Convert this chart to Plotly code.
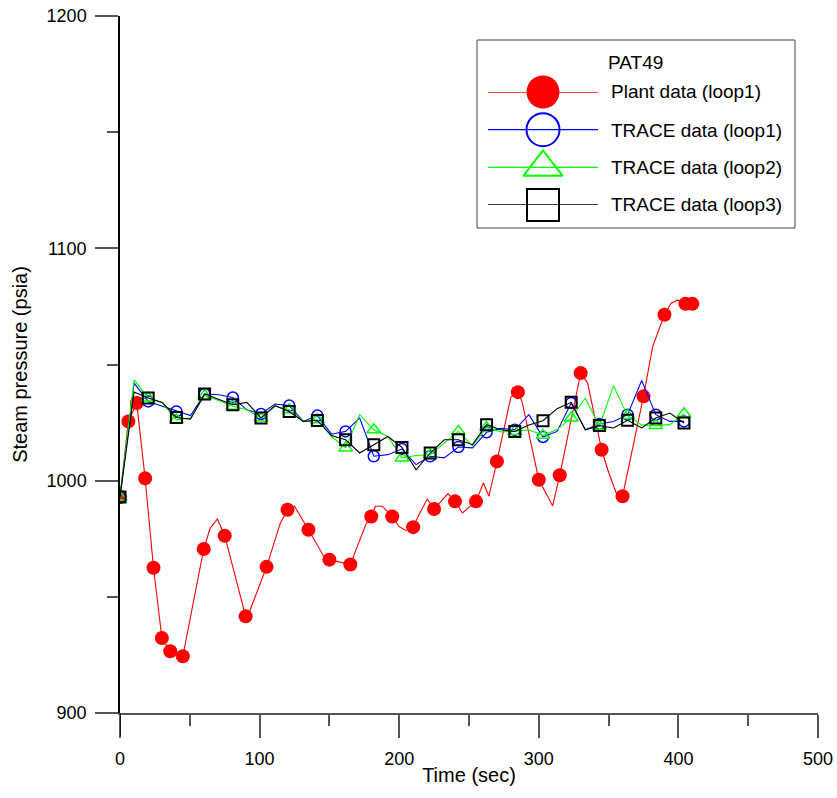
import plotly.graph_objects as go

# ---- Plant data (loop 1): measured trace and sampled points ----
plant_line_t = [0, 6, 12, 18, 24, 30, 36, 45, 60, 64.6, 69.8, 75, 90, 93, 105, 114.9, 120,
                125, 135, 146, 150, 155.5, 165, 170, 176, 180, 183, 187.9, 195, 199.8, 204.6,
                210, 214.2, 220.1, 225, 234.9, 240, 245.3, 255, 260.3, 264.3, 270, 280, 285,
                288, 300, 309.9, 315, 330, 335, 345, 349.4, 355.4, 360, 375, 381.6, 390,
                394.8, 399.6, 405, 410]
plant_line_p = [993, 1025.5, 1033.4, 1001, 962.5, 932.3, 926.6, 924.4, 970.6, 979.6, 983.5,
                976.3, 941.6, 944, 962.9, 981.8, 987.5, 989, 978.9, 967.4, 966, 965.3, 963.9,
                971.7, 981, 984.6, 989, 989, 984.6, 980.3, 978.6, 980, 985.4, 992.1, 987.8,
                994.4, 991.1, 986.1, 991.1, 999, 993.3, 1008.3, 1036, 1038.1, 1034, 1000.4,
                989.2, 1002.3, 1046.3, 1042, 1013.3, 1004.7, 994.7, 993.3, 1036.3, 1057.8,
                1071.4, 1076.4, 1077.8, 1076.1, 1076.1]

plant_t = [0, 6, 12, 18, 24, 30, 36, 45, 60, 75, 90, 105, 120, 135, 150, 165, 180, 195, 210,
           225, 240, 255, 270, 285, 300, 315, 330, 345, 360, 375, 390, 405, 410]
plant_p = [993, 1025.5, 1033.4, 1001, 962.5, 932.3, 926.6, 924.4, 970.6, 976.3, 941.6, 962.9,
           987.5, 978.9, 966, 963.9, 984.6, 984.6, 980, 987.8, 991.1, 991.1, 1008.3, 1038.1,
           1000.4, 1002.3, 1046.3, 1013.3, 993.3, 1036.3, 1071.4, 1076.1, 1076.1]

# ---- TRACE results: output every 10.1 s, symbols on every other sample ----
trace_t = [0, 10.1, 20.2, 30.3, 40.4, 50.5, 60.6, 70.7, 80.8, 90.9, 101, 111.1, 121.2, 131.3,
           141.4, 151.5, 161.6, 171.7, 181.8, 191.9, 202, 212.1, 222.2, 232.3, 242.4, 252.5,
           262.6, 272.7, 282.8, 292.9, 303, 313.1, 323.2, 333.3, 343.4, 353.5, 363.6, 373.7,
           383.8, 393.9, 404]
loop1_p = [993, 1042, 1034.1, 1032, 1029.8, 1028, 1037.3, 1037, 1035.8, 1030.5, 1028.7, 1033,
           1032.3, 1025.5, 1028, 1020, 1021.2, 1027, 1010.5, 1011.2, 1013.6, 1006.9, 1010.5,
           1009.8, 1014.5, 1014.1, 1020.8, 1022.5, 1021.9, 1028.4, 1018.8, 1021.2, 1033.4,
           1021.9, 1024.4, 1025.5, 1028.4, 1043.1, 1028.4, 1025.5, 1025.5]
loop2_p = [993, 1043.4, 1035.6, 1033.5, 1026.2, 1027, 1036.6, 1034.5, 1032, 1030.5, 1027, 1032,
           1030.5, 1025.5, 1026.2, 1019, 1014.1, 1028.4, 1021.9, 1019, 1009.8, 1010.8, 1011.2,
           1016, 1021.2, 1015, 1022.9, 1021, 1021.2, 1021.9, 1019.5, 1022, 1027, 1035.6,
           1023.4, 1040.9, 1028, 1024, 1023.7, 1024.1, 1028.8]
loop3_p = [993, 1038.2, 1035.6, 1033.7, 1027.2, 1026.5, 1037.3, 1035.1, 1032.7, 1033.7, 1027,
           1032.3, 1029.8, 1025.5, 1025.9, 1019.4, 1017.6, 1011.9, 1015.5, 1019, 1014.3, 1004.7,
           1011.9, 1017.6, 1017.6, 1015.5, 1024.1, 1021.9, 1021.2, 1024, 1025.8, 1031, 1033.7,
           1021.9, 1023.7, 1022.7, 1026, 1022.7, 1027, 1029.1, 1024.8]

legend_title = "PAT49"
series_names = ["Plant data (loop1)", "TRACE data (loop1)", "TRACE data (loop2)",
                "TRACE data (loop3)"]

x_ticks = [0, 100, 200, 300, 400, 500]
y_ticks = [900, 1000, 1100, 1200]

FONT = "Arial, 'Liberation Sans', sans-serif"
RED, BLUE, GREEN, BLACK = "#ff0000", "#0000ff", "#00ff00", "#000000"
AXIS_GREY = "#555555"

fig = go.Figure()

# plant data: line under its sampled markers
fig.add_trace(go.Scatter(x=plant_line_t, y=plant_line_p, mode="lines",
                         line=dict(color=RED, width=1.1), showlegend=False, hoverinfo="skip"))
fig.add_trace(go.Scatter(x=plant_t, y=plant_p, mode="markers",
                         marker=dict(symbol="circle", size=14, color=RED, line=dict(width=0)),
                         name=series_names[0], showlegend=False))

trace_styles = [
    (loop1_p, BLUE, "circle-open", 11, 1.5, series_names[1]),
    (loop2_p, GREEN, "triangle-up-open", 12, 1.5, series_names[2]),
    (loop3_p, BLACK, "square-open", 11, 2, series_names[3]),
]
for vals, col, sym, size, lw, name in trace_styles:
    fig.add_trace(go.Scatter(x=trace_t, y=vals, mode="lines",
                             line=dict(color=col, width=1.1), showlegend=False,
                             hoverinfo="skip"))
    fig.add_trace(go.Scatter(x=trace_t[::2], y=vals[::2], mode="markers",
                             marker=dict(symbol=sym, size=size, color=col,
                                         line=dict(color=col, width=lw)),
                             name=name, showlegend=False))

# ---- boxed key drawn on an inset axis ----
key_rows = [3, 2, 1, 0]
key_styles = [
    (RED, "circle", 33, 0),
    (BLUE, "circle-open", 33, 2),
    (GREEN, "triangle-up-open", 34, 2),
    (BLACK, "square-open", 32, 2),
]
for row, (col, sym, size, lw) in zip(key_rows, key_styles):
    fig.add_trace(go.Scatter(x=[0, 1], y=[row, row], mode="lines", xaxis="x2", yaxis="y2",
                             line=dict(color=col, width=1.3), showlegend=False,
                             hoverinfo="skip", cliponaxis=False))
    fig.add_trace(go.Scatter(x=[0.5], y=[row], mode="markers", xaxis="x2", yaxis="y2",
                             marker=dict(symbol=sym, size=size, color=col,
                                         line=dict(color=col, width=lw)),
                             showlegend=False, hoverinfo="skip", cliponaxis=False))

W, H = 837, 798
ML, MR, MT, MB = 120, 19, 16, 85
pw, ph = W - ML - MR, H - MT - MB


def px_x(p):
    return (p - ML) / pw


def px_y(p):
    return (H - MB - p) / ph


annotations = [dict(text=legend_title, x=px_x(606), y=px_y(63), xref="paper", yref="paper",
                    xanchor="left", yanchor="middle", showarrow=False,
                    font=dict(family=FONT, size=19, color="#000"))]
for name, ypix in zip(series_names, [92, 130, 167, 205]):
    annotations.append(dict(text=name, x=px_x(609), y=px_y(ypix), xref="paper", yref="paper",
                            xanchor="left", yanchor="middle", showarrow=False,
                            font=dict(family=FONT, size=19, color="#000")))

shapes = [
    dict(type="rect", xref="paper", yref="paper", x0=px_x(477), x1=px_x(795),
         y0=px_y(228), y1=px_y(40), line=dict(color="#444444", width=1), fillcolor="white",
         layer="below"),
    # left axis continues below the time axis
    dict(type="line", xref="x", yref="paper", x0=0, x1=0, y0=0, y1=px_y(736),
         line=dict(color="#000", width=1.5)),
]

fig.update_layout(
    width=W, height=H,
    margin=dict(l=ML, r=MR, t=MT, b=MB, autoexpand=False),
    paper_bgcolor="white", plot_bgcolor="white",
    font=dict(family=FONT, size=18, color="#000"),
    showlegend=False,
    annotations=annotations,
    shapes=shapes,
    xaxis=dict(range=[0, 500], tickvals=x_ticks, showgrid=False, zeroline=False,
               showline=True, linecolor=AXIS_GREY, linewidth=1.5, automargin=False,
               ticks="outside", ticklen=23, tickwidth=1.5, tickcolor=AXIS_GREY,
               minor=dict(dtick=50, ticks="outside", ticklen=11, tickwidth=1.5,
                          tickcolor=AXIS_GREY),
               ticklabelstandoff=6,
               title=dict(text="Time (sec)", standoff=0, font=dict(size=20))),
    yaxis=dict(range=[900, 1200], tickvals=y_ticks, showgrid=False, zeroline=False,
               showline=True, linecolor="#000", linewidth=1.5, automargin=False,
               ticks="outside", ticklen=23, tickwidth=1.5, tickcolor=AXIS_GREY,
               minor=dict(dtick=50, ticks="outside", ticklen=11, tickwidth=1.5,
                          tickcolor=AXIS_GREY),
               ticklabelstandoff=5,
               title=dict(text="Steam pressure (psia)", standoff=14, font=dict(size=20))),
    xaxis2=dict(domain=[px_x(488), px_x(598)], range=[0, 1], anchor="y2", visible=False,
                fixedrange=True),
    yaxis2=dict(domain=[px_y(205), px_y(92)], range=[0, 3], anchor="x2", visible=False,
                fixedrange=True),
)

fig.write_html("out.html")
